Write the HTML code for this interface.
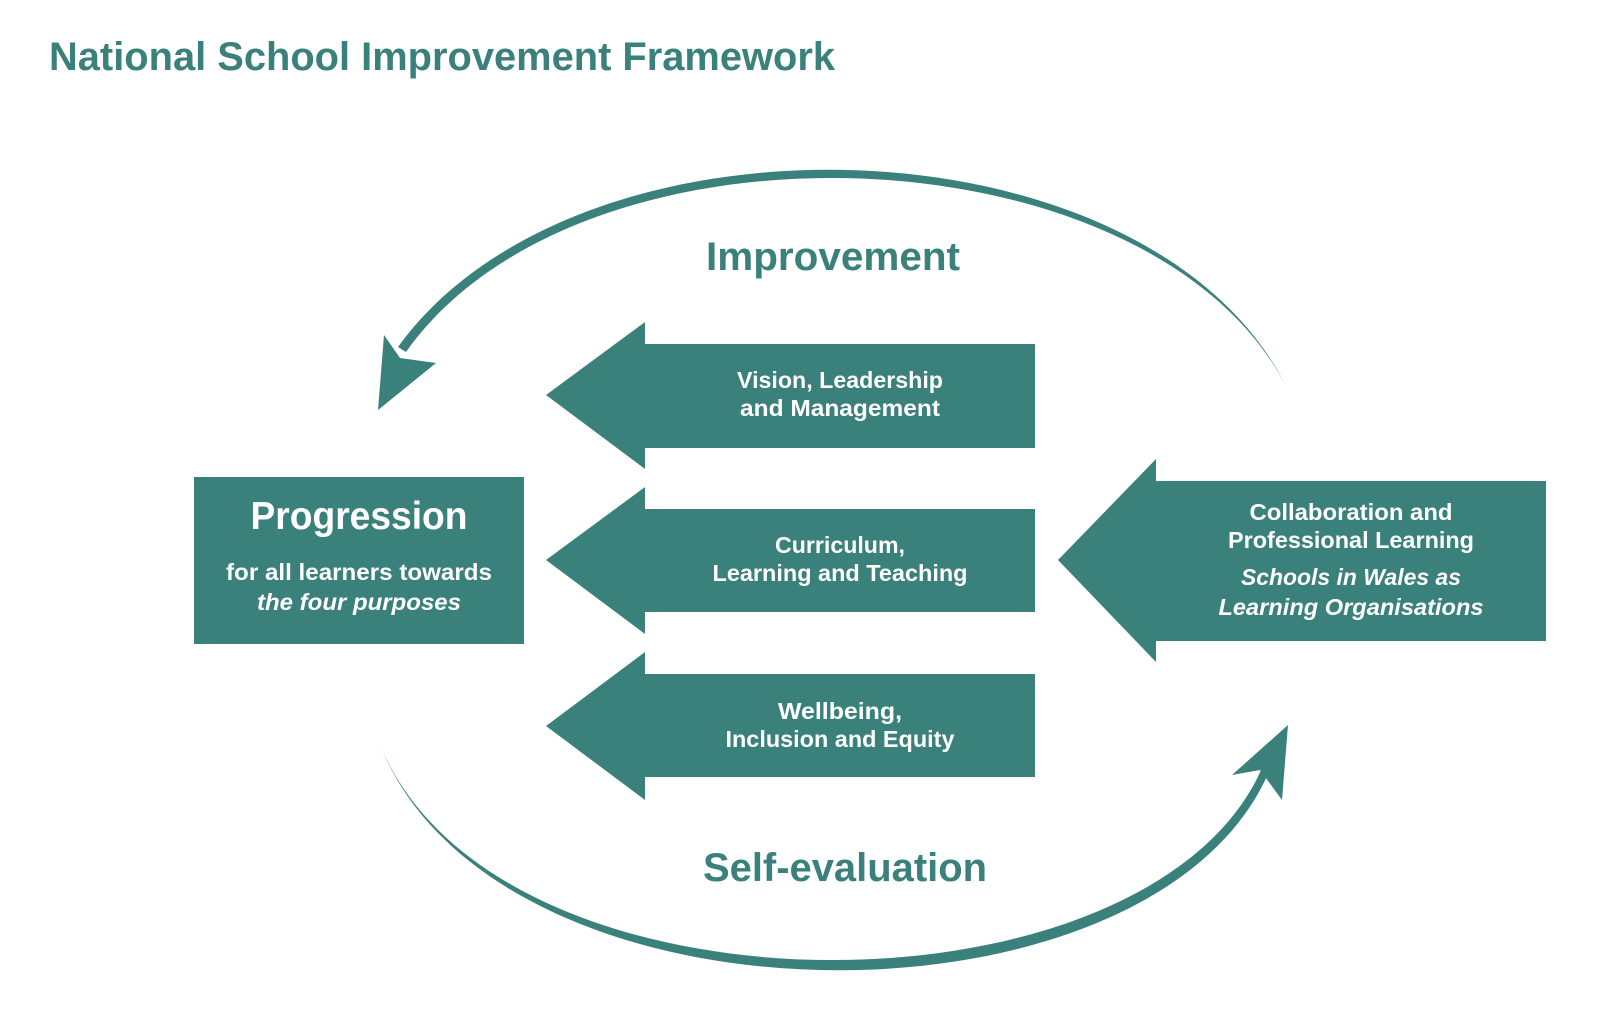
<!DOCTYPE html>
<html><head><meta charset="utf-8"><style>
html,body{margin:0;padding:0;background:#fff}
svg{display:block}
text{font-family:"Liberation Sans",sans-serif}
</style></head><body>
<svg width="1618" height="1020" viewBox="0 0 1618 1020" xmlns="http://www.w3.org/2000/svg">
<g fill="#3b817b">
<text x="49" y="70" font-size="40" font-weight="bold" fill="#3b817b" textLength="786" lengthAdjust="spacingAndGlyphs">National School Improvement Framework</text>
<text x="833" y="270" font-size="40" font-weight="bold" text-anchor="middle" textLength="254" lengthAdjust="spacingAndGlyphs">Improvement</text>
<text x="845" y="881" font-size="40" font-weight="bold" text-anchor="middle" textLength="284" lengthAdjust="spacingAndGlyphs">Self-evaluation</text>

<!-- top arc -->
<path d="M1286,386 C1150,125 580,105 406,352 L398,347 C580,95 1150,115 1286,386 Z"/>
<path d="M378,410 L384,335 L400,358 L436,363 Z"/>
<!-- bottom arc -->
<path d="M381,747 C500,1030 1150,1025 1262,768 L1268,774 C1150,1040 500,1040 381,747 Z"/>
<path d="M1288,725 L1232,775 L1260,770 L1282,800 Z"/>

<rect x="194" y="477" width="330" height="167"/>
<path d="M546,395 L645,322 L645,344 L1035,344 L1035,448 L645,448 L645,469 Z"/>
<path d="M546,560 L645,487 L645,509 L1035,509 L1035,612 L645,612 L645,634 Z"/>
<path d="M546,726 L645,652 L645,674 L1035,674 L1035,777 L645,777 L645,800 Z"/>
<path d="M1058,560 L1156,459 L1156,481 L1546,481 L1546,641 L1156,641 L1156,662 Z"/>
</g>
<g fill="#fff" font-weight="bold" text-anchor="middle">
<text x="359" y="529" font-size="39" textLength="217" lengthAdjust="spacingAndGlyphs">Progression</text>
<text x="359" y="580" font-size="23" textLength="266" lengthAdjust="spacingAndGlyphs">for all learners towards</text>
<text x="359" y="610" font-size="23" font-style="italic" textLength="204" lengthAdjust="spacingAndGlyphs">the four purposes</text>
<text x="840" y="388" font-size="23" textLength="206" lengthAdjust="spacingAndGlyphs">Vision, Leadership</text>
<text x="840" y="416" font-size="23" textLength="200" lengthAdjust="spacingAndGlyphs">and Management</text>
<text x="840" y="553" font-size="23" textLength="130" lengthAdjust="spacingAndGlyphs">Curriculum,</text>
<text x="840" y="581" font-size="23" textLength="255" lengthAdjust="spacingAndGlyphs">Learning and Teaching</text>
<text x="840" y="719" font-size="23" textLength="124" lengthAdjust="spacingAndGlyphs">Wellbeing,</text>
<text x="840" y="747" font-size="23" textLength="229" lengthAdjust="spacingAndGlyphs">Inclusion and Equity</text>
<text x="1351" y="520" font-size="23" textLength="203" lengthAdjust="spacingAndGlyphs">Collaboration and</text>
<text x="1351" y="548" font-size="23" textLength="246" lengthAdjust="spacingAndGlyphs">Professional Learning</text>
<text x="1351" y="585" font-size="23" font-style="italic" textLength="220" lengthAdjust="spacingAndGlyphs">Schools in Wales as</text>
<text x="1351" y="615" font-size="23" font-style="italic" textLength="265" lengthAdjust="spacingAndGlyphs">Learning Organisations</text>
</g>
</svg>
</body></html>
